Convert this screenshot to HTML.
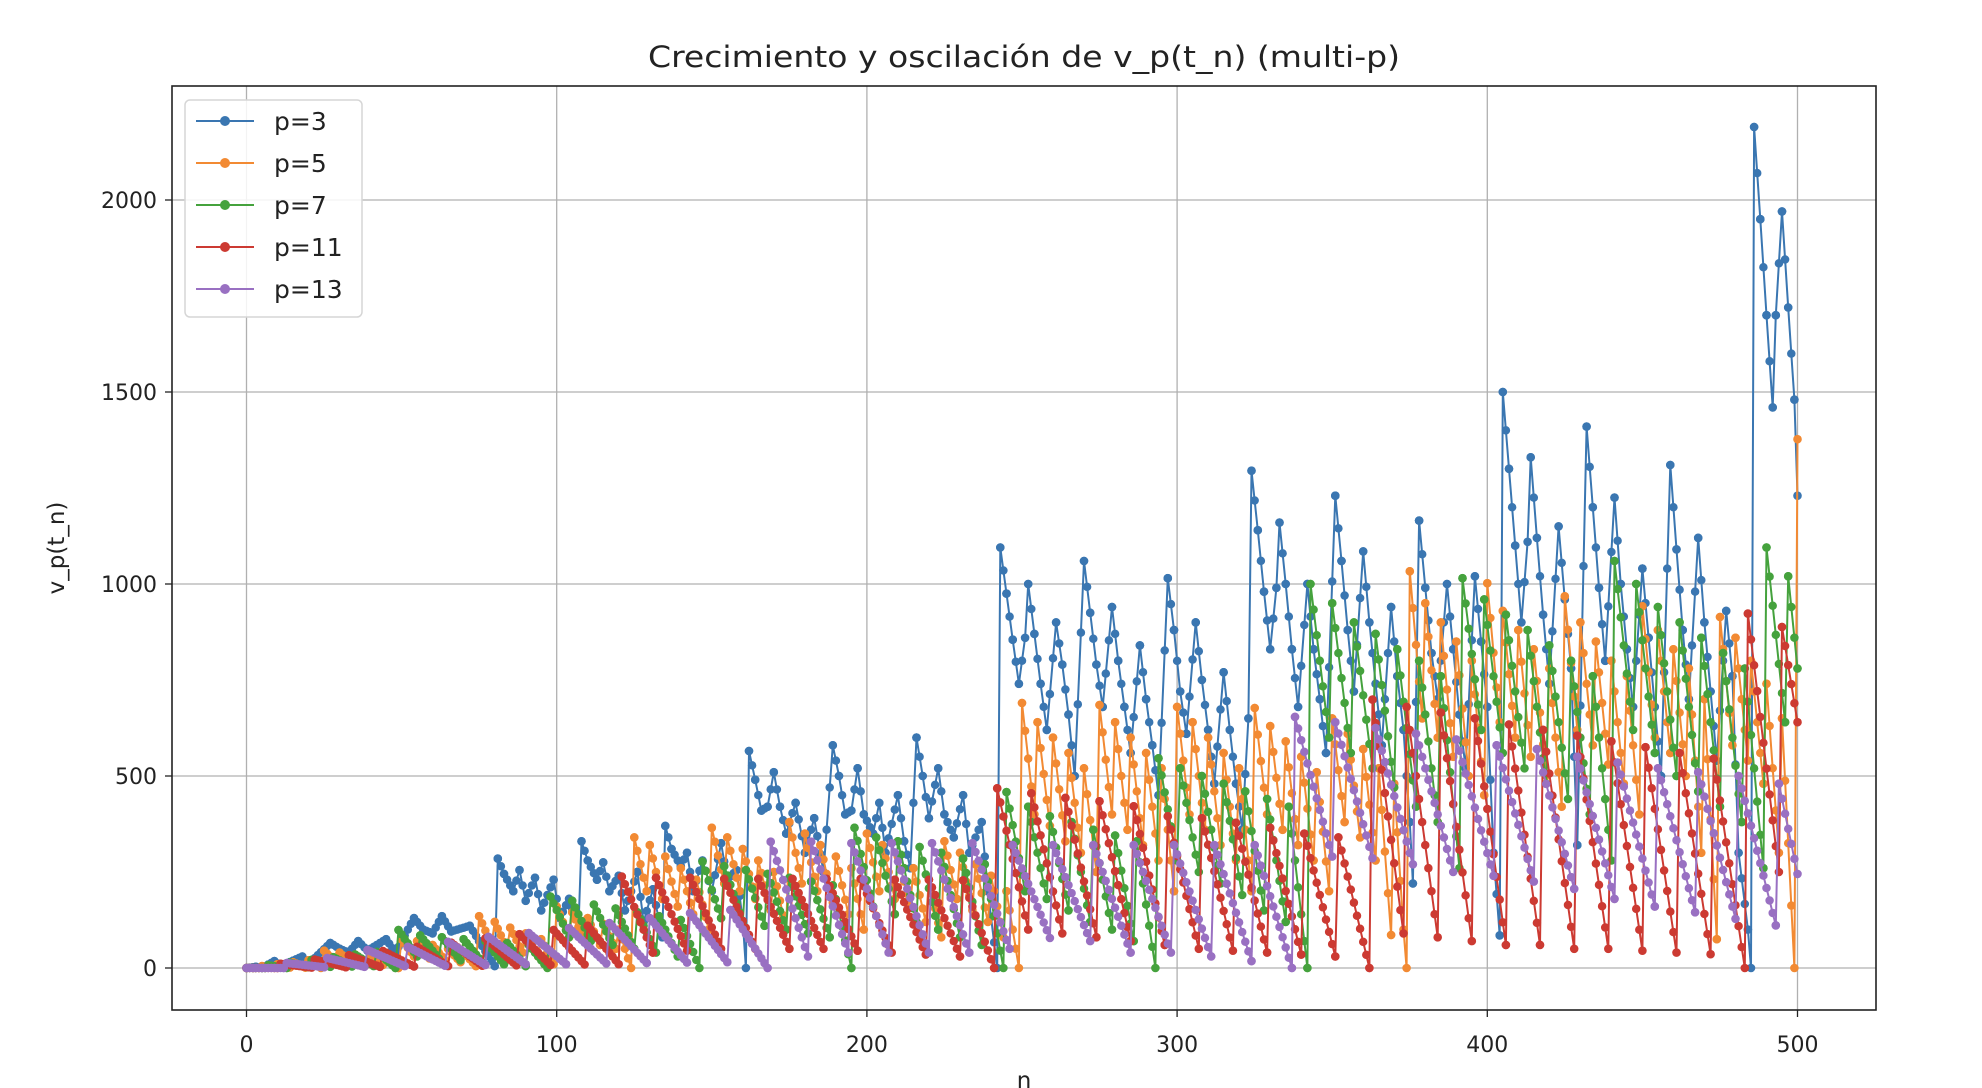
<!DOCTYPE html>
<html><head><meta charset="utf-8">
<style>
html,body{margin:0;padding:0;background:#fff;}
svg{display:block;font-family:"DejaVu Sans","Liberation Sans",sans-serif;}
</style></head>
<body>
<svg id="chart" width="1982" height="1088" viewBox="0 0 1982 1088" xmlns="http://www.w3.org/2000/svg">
<rect x="0" y="0" width="1982" height="1088" fill="#fff"/>
<text x="1024" y="67" font-size="29" text-anchor="middle" fill="#222" textLength="752" lengthAdjust="spacingAndGlyphs">Crecimiento y oscilación de v_p(t_n) (multi-p)</text>
<g id="grid"></g>
<g id="series"></g>
<rect x="172" y="86" width="1704" height="924" fill="none" stroke="#222" stroke-width="1.6"/>
<g id="ticks"></g>
<text x="1024" y="1088" font-size="23" text-anchor="middle" fill="#222">n</text>
<text x="0" y="0" font-size="23" text-anchor="middle" fill="#222" transform="translate(64,548) rotate(-90)">v_p(t_n)</text>
<g id="legend">
<rect x="185" y="100" width="177" height="217" rx="5" fill="#fff" fill-opacity="0.85" stroke="#d6d6d6" stroke-width="1.5"/>
</g>
</svg>
<script>
const xTicks = [0,100,200,300,400,500];
const yTicks = [0,500,1000,1500,2000];
const seriesLabels = ["p=3","p=5","p=7","p=11","p=13"];
const seriesColors = ["#3a76b1","#f28a33","#45a23d","#cc3a32","#9970c2"];

const p3Series = [[0,0],[3,3],[5,0],[9,18],[11,5],[18,30],[20,10],[27,65],[30,50],[33,40],[36,70],[39,45],[45,75],[48,40],[54,130],[57,100],[60,90],[63,135],[66,95],[72,110],[75,70],[80,5],
[81,285],[83,245],[86,200],[88,255],[90,175],[93,235],[95,150],[99,230],[101,130],[104,180],[107,100],[108,330],[110,280],[113,230],[115,275],[117,200],[120,240],[122,150],[126,250],[128,120],[131,205],[134,80],[135,370],[137,310],[140,265],[142,300],[144,200],[147,280],[150,200],[153,325],[155,230],[158,255],[160,120],[161,0],
[162,565],[164,490],[166,410],[168,420],[170,510],[172,420],[174,350],[177,430],[180,300],[183,390],[186,250],[189,580],[191,500],[193,400],[195,410],[197,520],[199,400],[202,350],[204,430],[206,300],[210,450],[212,330],[214,260],[216,600],[218,500],[220,390],[223,520],[225,400],[228,340],[231,450],[233,300],[237,380],[239,200],[242,0],
[243,1095],[245,975],[247,855],[249,740],[251,860],[252,1000],[254,870],[256,740],[258,620],[261,900],[263,790],[265,660],[267,500],[270,1060],[272,925],[274,790],[276,680],[279,940],[281,800],[283,680],[285,560],[288,840],[290,700],[292,580],[294,450],[297,1015],[299,880],[301,720],[303,610],[306,900],[308,750],[310,620],[312,480],[315,770],[317,620],[319,480],[321,360],[323,650],
[324,1295],[326,1140],[328,980],[330,830],[332,990],[333,1160],[335,1000],[337,830],[339,680],[342,1000],[344,830],[346,700],[348,560],[351,1230],[353,1060],[355,880],[357,720],[360,1085],[362,900],[364,740],[366,580],[369,940],[371,760],[373,620],[375,380],[376,220],[378,1165],[380,990],[382,820],[384,700],[387,1000],[389,830],[391,660],[393,520],[396,1020],[398,850],[400,680],[402,300],[404,85],
[405,1500],[407,1300],[409,1100],[411,900],[413,1110],[414,1330],[416,1120],[418,920],[420,740],[423,1150],[425,960],[427,780],[429,320],[432,1410],[434,1200],[436,990],[438,800],[441,1225],[443,1000],[445,830],[447,680],[450,1040],[452,860],[454,680],[456,500],[459,1310],[461,1090],[463,880],[465,700],[468,1120],[470,900],[472,720],[474,540],[477,930],[479,760],[481,300],[484,100],[485,0],
[486,2190],[488,1950],[490,1700],[492,1460],[493,1700],[495,1970],[497,1720],[499,1480],[500,1230]];

const p5Series = [[0,0],[4,0],[5,5],[9,0],[10,10],[14,1],[15,15],[19,1],[20,20],[24,0],[25,45],[29,15],[30,40],[34,12],[35,35],[39,10],[40,30],[44,8],[45,25],[49,0],[50,75],[54,30],[55,70],[59,25],[60,60],[64,20],[65,50],[69,15],[70,40],[74,5],[75,135],[79,60],[80,120],[84,50],[85,105],[89,40],[90,90],[94,30],[95,75],[99,10],[100,160],[104,80],[105,145],[109,70],[110,130],[114,60],[115,115],[119,50],[120,100],[124,0],
[125,340],[129,200],[130,320],[134,180],[135,290],[139,160],[140,260],[144,140],[145,230],[149,100],[150,365],[154,220],[155,340],[159,200],[160,310],[164,180],[165,280],[169,150],[170,250],[174,100],[175,380],[179,220],[180,350],[184,200],[185,320],[189,170],[190,290],[194,140],[195,260],[199,100],[200,350],[204,200],[205,320],[209,180],[210,290],[214,160],[215,260],[219,120],[220,230],[224,80],[225,330],[229,180],[230,300],[234,150],[235,270],[239,120],[240,240],[244,80],[245,200],[249,0],
[250,690],[254,400],[255,640],[259,370],[260,600],[264,330],[265,560],[269,300],[270,520],[274,250],[275,685],[279,400],[280,640],[284,360],[285,600],[289,320],[290,560],[294,280],[295,520],[299,200],[300,680],[304,400],[305,640],[309,360],[310,600],[314,320],[315,560],[319,280],[320,520],[324,200],[325,677],[329,400],[330,630],[334,360],[335,590],[339,320],[340,550],[344,280],[345,510],[349,200],[350,650],[354,380],[355,610],[359,340],[360,570],[364,280],[365,520],[369,86],[370,480],[373,100],[374,0],
[375,1033],[379,650],[380,950],[384,600],[385,900],[389,550],[390,850],[394,500],[395,800],[399,450],[400,1002],[404,640],[405,930],[409,600],[410,880],[414,550],[415,830],[419,500],[420,780],[424,420],[425,968],[429,620],[430,900],[434,580],[435,850],[439,530],[440,800],[444,480],[445,760],[449,400],[450,942],[454,600],[455,880],[459,560],[460,830],[464,500],[465,780],[469,300],[470,700],[474,75],[475,914],[479,580],[480,860],[484,540],[485,800],[489,480],[490,740],[494,300],[495,650],[499,0],[500,1377]];

const p7Series = [[0,0],[6,0],[7,7],[13,0],[14,14],[20,2],[21,21],[27,3],[28,28],[34,4],[35,35],[41,5],[42,42],[48,0],[49,99],[55,30],[56,85],[62,25],[63,80],[69,20],[70,75],[76,15],[77,70],[83,10],[84,65],[90,5],[91,60],[97,0],[98,186],[104,80],[105,175],[111,70],[112,165],[118,60],[119,155],[125,50],[126,145],[132,40],[133,135],[139,30],[140,125],[146,0],[147,277],[153,130],[154,265],[160,120],[161,255],[167,110],[168,245],[174,100],[175,235],[181,90],[182,225],[188,80],[189,215],[195,0],[196,365],[202,160],[203,340],[209,140],[210,330],[216,120],[217,315],[223,100],[224,300],[230,80],[231,285],[237,60],[238,270],[244,0],[245,458],[251,200],[252,420],[258,180],[259,395],[265,150],[266,380],[272,120],[273,360],[279,100],[280,345],[286,70],[287,330],[293,0],[294,546],[300,280],[301,520],[307,250],[308,500],[314,220],[315,480],[321,190],[322,460],[328,150],[329,440],[335,120],[336,420],[342,0],
[343,1000],[349,600],[350,950],[356,560],[357,900],[363,520],[364,870],[370,470],[371,830],[377,420],[378,800],[384,380],[385,760],[391,260],[392,1015],[398,620],[399,960],[405,560],[406,920],[412,520],[413,880],[419,480],[420,840],[426,440],[427,800],[433,400],[434,760],[440,280],[441,1060],[447,620],[448,1000],[454,560],[455,940],[461,500],[462,900],[468,460],[469,860],[475,420],[476,820],[482,380],[483,780],[489,260],[490,1095],[496,640],[497,1020],[500,780]];

const p11Series = [[0,0],[10,0],[11,11],[21,1],[22,22],[32,2],[33,33],[43,3],[44,44],[54,4],[55,55],[65,5],[66,66],[76,6],[77,77],[87,7],[88,88],[98,8],[99,99],[109,9],[110,110],[120,10],[121,238],[131,40],[132,235],[142,45],[143,235],[153,50],[154,232],[164,50],[165,232],[175,50],[176,232],[186,50],[187,232],[197,45],[198,232],[208,40],[209,230],[219,35],[220,230],[230,30],[231,228],[241,0],[242,468],[252,100],[253,455],[263,90],[264,443],[274,80],[275,434],[285,70],[286,421],[296,60],[297,395],[307,50],[308,390],[318,45],[319,378],[329,40],[330,365],[340,35],[341,350],[351,30],[352,340],[362,0],[363,699],[373,90],[374,680],[384,80],[385,665],[395,70],[396,650],[406,60],[407,634],[417,60],[418,620],[428,50],[429,605],[439,50],[440,590],[450,45],[451,575],[461,40],[462,560],[472,36],[473,545],[483,0],[484,923],[494,250],[495,888],[500,640]];

const p13Series = [[0,0],[12,0],[13,13],[25,2],[26,26],[38,3],[39,47],[51,5],[52,55],[64,6],[65,68],[77,8],[78,81],[90,10],[91,91],[103,10],[104,104],[116,12],[117,117],[129,13],[130,130],[142,14],[143,143],[155,15],[156,151],[168,0],[169,329],[181,30],[182,329],[194,40],[195,325],[207,40],[208,325],[220,40],[221,325],[233,40],[234,325],[246,50],[247,320],[259,78],[260,320],[272,70],[273,320],[285,40],[286,320],[298,40],[299,320],[311,30],[312,320],[324,18],[325,320],[337,0],[338,654],[350,290],[351,640],[363,286],[364,625],[376,270],[377,610],[389,250],[390,595],[402,240],[403,580],[415,225],[416,570],[428,206],[429,550],[441,180],[442,535],[454,160],[455,520],[467,145],[468,510],[480,128],[481,500],[493,111],[494,480],[500,245]];

const allSeries = [p3Series,p5Series,p7Series,p11Series,p13Series];

const NS = "http://www.w3.org/2000/svg";
const X0 = 246.5, XS = 3.102, Y0 = 968, YS = 0.384;
function xScale(n){ return X0 + n*XS; }
function yScale(v){ return Y0 - v*YS; }
function mk(tag, attrs, parent){
  const el = document.createElementNS(NS, tag);
  for (const k in attrs) el.setAttribute(k, attrs[k]);
  parent.appendChild(el);
  return el;
}

const grid = document.getElementById('grid');
const ticks = document.getElementById('ticks');
xTicks.forEach(t => {
  const gx = xScale(t);
  const gl = mk('line',{x1:gx,x2:gx,y1:86,y2:1010,stroke:'#b0b0b0','stroke-width':1.3},grid);
  
  
  const tm = mk('line',{x1:gx,x2:gx,y1:1010,y2:1017,stroke:'#222','stroke-width':1.3},ticks);
  
  
  const tl = mk('text',{x:gx,y:1052,'font-size':22,'text-anchor':'middle',fill:'#222'},ticks);
  
  
  tl.textContent = t;
});
yTicks.forEach(t => {
  const gy = yScale(t);
  const gl = mk('line',{x1:172,x2:1876,y1:gy,y2:gy,stroke:'#b0b0b0','stroke-width':1.3},grid);
  
  
  const tm = mk('line',{x1:165,x2:172,y1:gy,y2:gy,stroke:'#222','stroke-width':1.3},ticks);
  
  
  const tl = mk('text',{x:157,y:gy+8,'font-size':22,'text-anchor':'end',fill:'#222'},ticks);
  
  
  tl.textContent = t;
});

const sg = document.getElementById('series');
allSeries.forEach((pts, i) => {
  const d = pts.map((p, j) => (j ? 'L' : 'M') + xScale(p[0]).toFixed(1) + ' ' + yScale(p[1]).toFixed(1)).join(' ');
  const g = mk('g',{},sg);
  
  
  const line = mk('path',{d:d,fill:'none',stroke:seriesColors[i],'stroke-width':2,'stroke-linejoin':'round'},g);
  
  
  for (let j = 1; j < pts.length; j++) {
    const a = pts[j-1], b = pts[j];
    const steps = b[0] - a[0];
    if (steps < 2) continue;
    const x1 = xScale(a[0]), y1 = yScale(a[1]), x2 = xScale(b[0]), y2 = yScale(b[1]);
    const len = Math.hypot(x2-x1, y2-y1);
    const seg = mk('path',{d:'M'+x1.toFixed(1)+' '+y1.toFixed(1)+' L'+x2.toFixed(1)+' '+y2.toFixed(1),fill:'none',stroke:seriesColors[i],'stroke-width':8.5,'stroke-linecap':'round','stroke-dasharray':'0 '+(len/steps).toFixed(2)},g);
    
    
  }
  pts.forEach(p => {
    const c = mk('circle',{cx:xScale(p[0]).toFixed(1),cy:yScale(p[1]).toFixed(1),r:4.3,fill:seriesColors[i]},g);
    
    
  });
});

const lg = document.getElementById('legend');
seriesLabels.forEach((lab, i) => {
  const y = 121 + i*42;
  const e = mk('g',{},lg);
  
  
  mk('line',{x1:196,x2:254,y1:y,y2:y,stroke:seriesColors[i],'stroke-width':2},e);
  mk('circle',{cx:225,cy:y,r:5,fill:seriesColors[i]},e);
  const t = mk('text',{x:274,y:y+9,'font-size':25,fill:'#222'},e);
  
  
  t.textContent = lab;
});
</script>
</body></html>
